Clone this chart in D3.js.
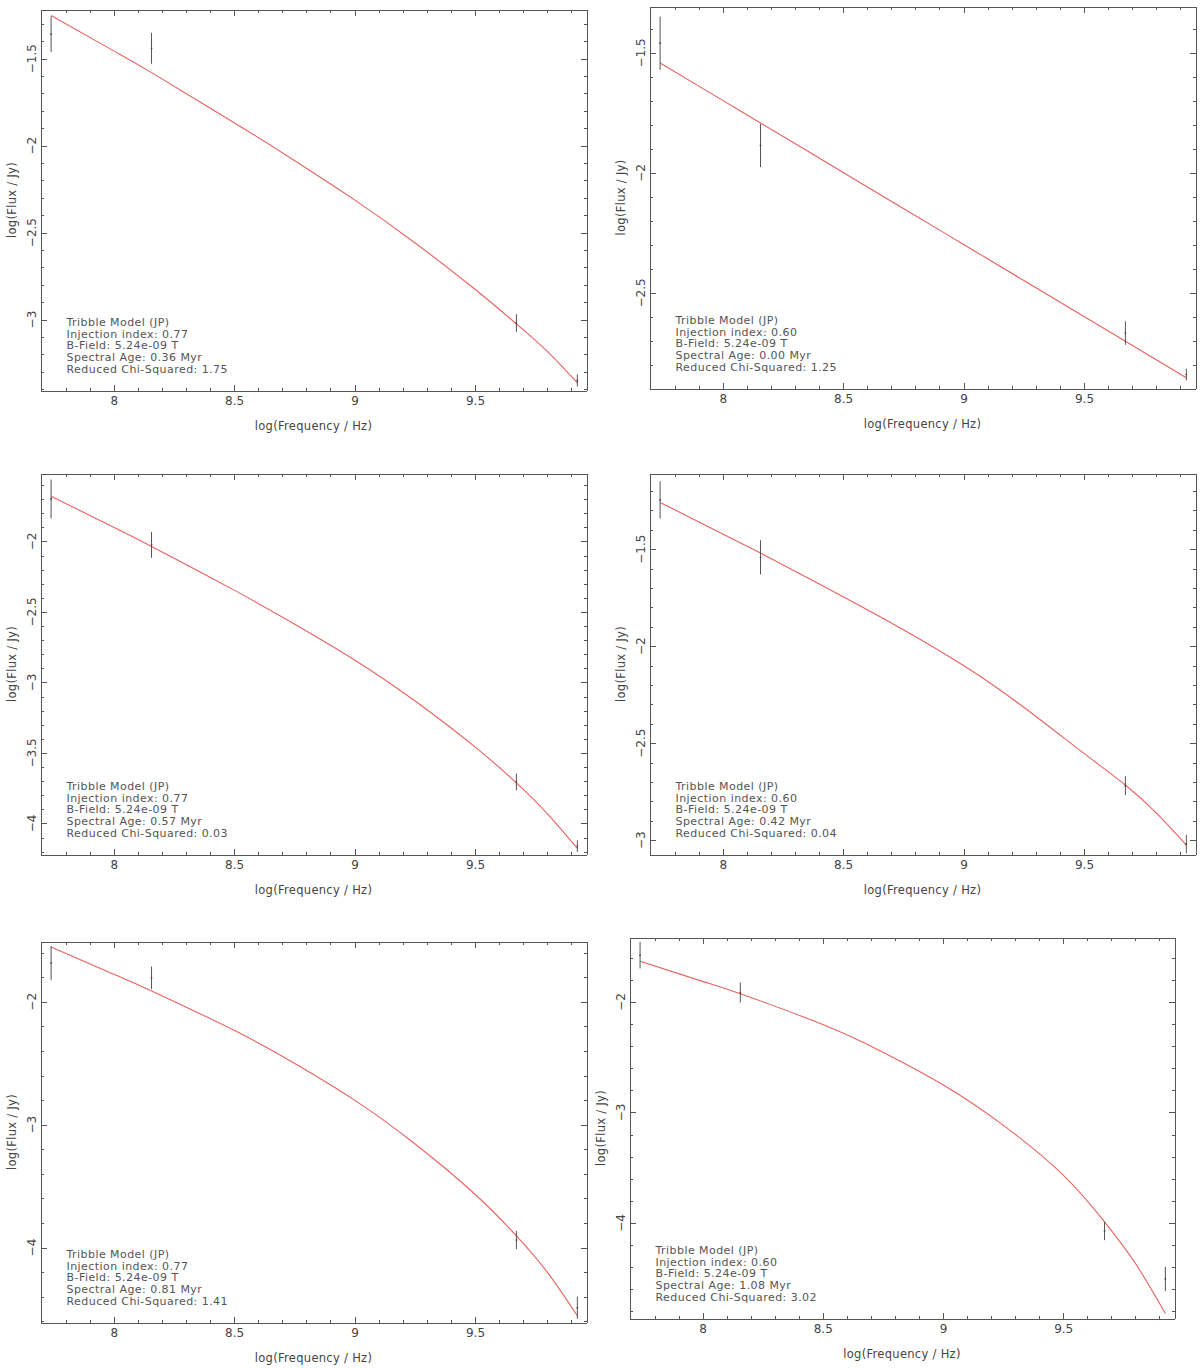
<!doctype html>
<html lang="en">
<head>
  <meta charset="utf-8">
  <title>Tribble JP model fits</title>
</head>

<style>
  body {
    margin: 0;
    background: #fff;
    font-family: "DejaVu Sans", sans-serif;
  }
  .axis path, .axis line { stroke: #555; shape-rendering: crispEdges; }
  .axis text { fill: #444; font-size: 12px; font-family: "DejaVu Sans", sans-serif; }
</style>

<body>

  <script src="https://d3js.org/d3.v7.min.js"></script>

  <svg xmlns="http://www.w3.org/2000/svg"></svg>

  <script>

    // observed frequencies, log(Hz)
    var freq = [7.74, 8.157, 9.672, 9.925];

    // observed log flux and errors, one pair per panel
    var flux1 = [-1.359, -1.44, -3.02, -3.35],   err1 = [0.103, 0.089, 0.051, 0.035];
    var flux2 = [-1.46, -1.886, -2.667, -2.84],  err2 = [0.111, 0.09, 0.049, 0.024];
    var flux3 = [-1.699, -2.024, -3.705, -4.16], err3 = [0.138, 0.092, 0.059, 0.041];
    var flux4 = [-1.246, -1.542, -2.719, -3.02], err4 = [0.096, 0.088, 0.049, 0.047];
    var flux5 = [-1.685, -1.805, -3.939, -4.49], err5 = [0.139, 0.092, 0.074, 0.09];
    var flux6 = [-1.577, -1.915, -4.073, -4.507], err6 = [0.12, 0.09, 0.083, 0.11];

    // model curves
    var modelFreq = [7.74, 8.0, 8.157, 8.5, 8.75, 9.0, 9.25, 9.5, 9.672, 9.8, 9.925];
    var model1 = [-1.251, -1.455, -1.58, -1.868, -2.085, -2.312, -2.558, -2.826, -3.025, -3.183, -3.364];
    var model2 = [-1.542, -1.698, -1.792, -1.998, -2.148, -2.298, -2.448, -2.598, -2.701, -2.778, -2.853];
    var model3 = [-1.679, -1.90, -2.035, -2.345, -2.585, -2.84, -3.13, -3.457, -3.712, -3.93, -4.177];
    var model4 = [-1.259, -1.422, -1.52, -1.745, -1.915, -2.1, -2.315, -2.553, -2.716, -2.86, -3.026];
    var model5 = [-1.553, -1.775, -1.911, -2.232, -2.5, -2.8, -3.155, -3.566, -3.905, -4.2, -4.555];
    var model6 = [-1.632, -1.814, -1.926, -2.205, -2.455, -2.75, -3.115, -3.567, -3.99, -4.365, -4.82];

    // fit parameters
    var injIndex = ["0.77", "0.60", "0.77", "0.60", "0.77", "0.60"];
    var bField   = ["5.24e-09", "5.24e-09", "5.24e-09", "5.24e-09", "5.24e-09", "5.24e-09"];
    var ages     = ["0.36", "0.00", "0.57", "0.42", "0.81", "1.08"];
    var chiSq    = ["1.75", "1.25", "0.03", "0.04", "1.41", "3.02"];

    // axes
    var xDomain = [7.696, 9.963];
    var xTicks = [8, 8.5, 9, 9.5];
    var yDomains = [[-3.408, -1.217], [-2.898, -1.307], [-4.22, -1.518],
                    [-3.074, -1.11], [-4.61, -1.509], [-4.865, -1.417]];
    var yTicks = [[-3, -2.5, -2, -1.5], [-2.5, -2, -1.5], [-4, -3.5, -3, -2.5, -2],
                  [-3, -2.5, -2, -1.5], [-4, -3, -2], [-4, -3, -2]];
    var yMinorStep = [0.1, 0.1, 0.1, 0.1, 0.2, 0.2];

    var fluxes = [flux1, flux2, flux3, flux4, flux5, flux6];
    var errs = [err1, err2, err3, err4, err5, err6];
    var models = [model1, model2, model3, model4, model5, model6];

    // frame boxes on the page: left, top, right, bottom
    var frames = [[40, 9, 586, 390], [649, 6, 1195, 388],
                  [40, 473, 586, 854], [649, 473, 1195, 854],
                  [40, 941, 586, 1322], [629, 937, 1174, 1318]];

    var svg = d3.select("svg")
      .attr("width", 1200)
      .attr("height", 1368);

    function minorTicks(domain, step) {
      var lo = Math.ceil(domain[0] / step - 1e-6), hi = Math.floor(domain[1] / step + 1e-6);
      return d3.range(lo, hi + 1).map(function(i) { return +(i * step).toFixed(4); });
    }

    frames.forEach(function(f, p) {
      var width = f[2] - f[0],
          height = f[3] - f[1],
          g = svg.append("g").attr("transform", "translate(" + (f[0] + 0.5) + "," + (f[1] + 0.5) + ")");

      var x = d3.scaleLinear().domain(xDomain).range([0, width]);
      var y = d3.scaleLinear().domain(yDomains[p]).range([height, 0]);

      var xMinor = minorTicks(xDomain, 0.1);
      var yMinor = minorTicks(yDomains[p], yMinorStep[p]);

      // bottom axis with labels
      g.append("g")
        .attr("class", "axis")
        .attr("transform", "translate(0," + height + ")")
        .call(d3.axisBottom(x).tickValues(xTicks).tickSize(-6).tickSizeOuter(0).tickPadding(6)
          .tickFormat(d3.format("")));
      g.append("g")
        .attr("class", "axis")
        .attr("transform", "translate(0," + height + ")")
        .call(d3.axisBottom(x).tickValues(xMinor).tickSize(-3).tickSizeOuter(0).tickFormat(""));

      // top axis, ticks only
      g.append("g").attr("class", "axis")
        .call(d3.axisTop(x).tickValues(xTicks).tickSize(-6).tickSizeOuter(0).tickFormat(""));
      g.append("g").attr("class", "axis")
        .call(d3.axisTop(x).tickValues(xMinor).tickSize(-3).tickSizeOuter(0).tickFormat(""));

      // left and right axes
      g.append("g").attr("class", "axis")
        .call(d3.axisLeft(y).tickValues(yTicks[p]).tickSize(-6).tickSizeOuter(0).tickFormat(""));
      g.append("g").attr("class", "axis")
        .call(d3.axisLeft(y).tickValues(yMinor).tickSize(-3).tickSizeOuter(0).tickFormat(""));
      g.append("g").attr("class", "axis")
        .attr("transform", "translate(" + width + ",0)")
        .call(d3.axisRight(y).tickValues(yTicks[p]).tickSize(-6).tickSizeOuter(0).tickFormat(""));
      g.append("g").attr("class", "axis")
        .attr("transform", "translate(" + width + ",0)")
        .call(d3.axisRight(y).tickValues(yMinor).tickSize(-3).tickSizeOuter(0).tickFormat(""));

      // rotated y tick labels
      g.selectAll(".ylab")
        .data(yTicks[p])
        .enter().append("text")
          .attr("class", "ylab")
          .attr("transform", function(d) { return "translate(-5," + y(d) + ") rotate(-90)"; })
          .attr("text-anchor", "middle")
          .style("font-size", "12px")
          .style("fill", "#444")
          .text(d3.format(""));

      // axis titles
      g.append("text")
        .attr("x", width / 2)
        .attr("y", height + 39)
        .attr("text-anchor", "middle")
        .style("font-size", "11.5px")
        .style("letter-spacing", "0.3px")
        .style("fill", "#444")
        .text("log(Frequency / Hz)");

      g.append("text")
        .attr("transform", "translate(-25," + (height / 2) + ") rotate(-90)")
        .attr("text-anchor", "middle")
        .style("font-size", "11.5px")
        .style("letter-spacing", "0.3px")
        .style("fill", "#444")
        .text("log(Flux / Jy)");

      // model curve
      var line = d3.line()
        .x(function(d, i) { return x(modelFreq[i]); })
        .y(function(d) { return y(d); })
        .curve(d3.curveNatural);

      g.append("path")
        .datum(models[p])
        .attr("d", line)
        .attr("fill", "none")
        .attr("stroke", "#e8625e")
        .attr("stroke-width", 1.1);

      // error bars
      g.selectAll(".ebar")
        .data(fluxes[p])
        .enter().append("line")
          .attr("class", "ebar")
          .attr("x1", function(d, i) { return x(freq[i]); })
          .attr("x2", function(d, i) { return x(freq[i]); })
          .attr("y1", function(d, i) { return y(d - errs[p][i]); })
          .attr("y2", function(d, i) { return y(d + errs[p][i]); })
          .attr("stroke", "#555")
          .attr("stroke-width", 1);

      g.selectAll(".pt")
        .data(fluxes[p])
        .enter().append("circle")
          .attr("class", "pt")
          .attr("cx", function(d, i) { return x(freq[i]); })
          .attr("cy", function(d) { return y(d); })
          .attr("r", 0.9)
          .attr("fill", "#444");

      // fit summary
      var lines = ["Tribble Model (JP)",
                   "Injection index: " + injIndex[p],
                   "B-Field: " + bField[p] + " T",
                   "Spectral Age: " + ages[p] + " Myr",
                   "Reduced Chi-Squared: " + chiSq[p]];

      g.selectAll(".info")
        .data(lines)
        .enter().append("text")
          .attr("class", "info")
          .attr("x", 26)
          .attr("y", function(d, i) { return height - 17.5 - (lines.length - 1 - i) * 11.8; })
          .style("font-size", "11px")
          .style("letter-spacing", "0.45px")
          .style("fill", "#555")
          .text(function(d) { return d; });
    });

  </script>
</body>
</html>
